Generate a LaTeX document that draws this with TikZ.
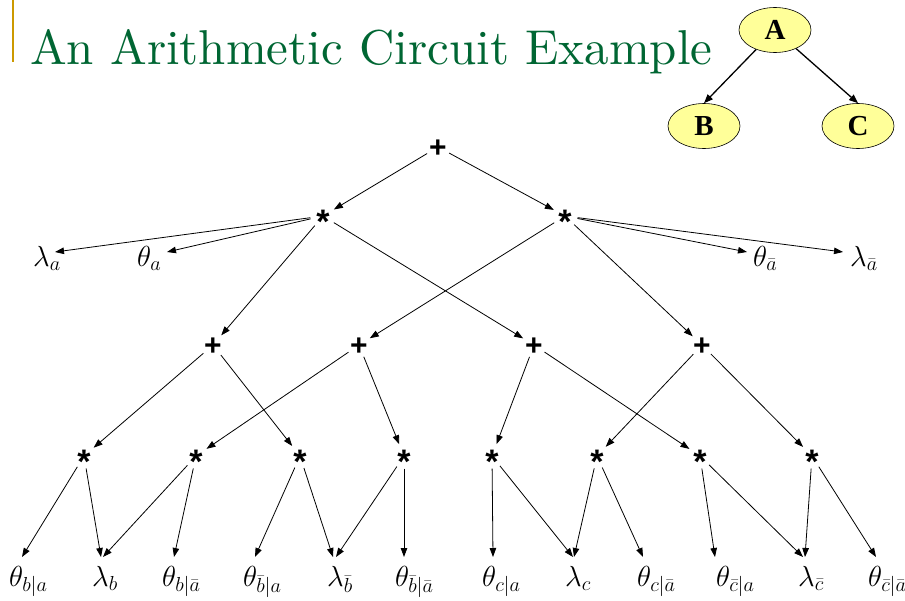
\documentclass[tikz,border=0pt]{standalone}
\usepackage{fix-cm}
\usepackage{fontspec}
\setsansfont{Liberation Sans}
\newfontfamily\abcfont{Liberation Serif}
\usetikzlibrary{arrows.meta,shapes.geometric,calc}
\definecolor{titlegreen}{RGB}{0,102,51}
\definecolor{goldbar}{RGB}{204,153,0}
\definecolor{nodeyellow}{RGB}{255,255,153}
\newcommand{\opstar}{\smash{\raisebox{-0.57em}{\fontsize{34}{34}\selectfont *}}}
\newcommand{\opplus}{\smash{\raisebox{-0.35em}{+}}}
\begin{document}
\begin{tikzpicture}[x=1pt,y=-1pt,
  op/.style={circle,inner sep=0pt,minimum size=25pt,font=\sffamily\bfseries\fontsize{30}{30}\selectfont},
  leaf/.style={inner sep=0pt,anchor=base west,font=\fontsize{29}{30}\selectfont},
  arr/.style={-{Triangle[length=9pt,width=6.5pt]},line width=0.8pt},
  bn/.style={ellipse,draw=black,line width=0.6pt,fill=nodeyellow,inner sep=0pt,minimum width=72pt,minimum height=45pt,font=\abcfont\bfseries\fontsize{29}{29}\selectfont},
  barr/.style={-{Triangle[length=9pt,width=7pt]},line width=1.3pt}
]
\useasboundingbox (0,0) rectangle (905,600);
% title
\fill[goldbar] (12,0) rectangle (14,62);
\node[anchor=base west,inner sep=0pt,text=titlegreen] (title) at (30,64)
  {\resizebox{682pt}{!}{\rmfamily An Arithmetic Circuit Example}};
% network A B C
\node[bn] (A) at (775,30) {A};
\node[bn] (B) at (704,126) {B};
\node[bn] (C) at (858,126) {C};
\draw[barr] (A) -- (B.north);
\draw[barr] (A) -- (C.north);
% operators
\node[op] (root) at (438,147) {\opplus};
\node[op] (s1) at (323,216) {\opstar};
\node[op] (s2) at (565,216) {\opstar};
\node[op] (p1) at (213,345) {\opplus};
\node[op] (p2) at (359,345) {\opplus};
\node[op] (p3) at (534,345) {\opplus};
\node[op] (p4) at (702,345) {\opplus};
\node[op] (m1) at (84,456) {\opstar};
\node[op] (m2) at (196,456) {\opstar};
\node[op] (m3) at (300,456) {\opstar};
\node[op] (m4) at (404,456) {\opstar};
\node[op] (m5) at (492,456) {\opstar};
\node[op] (m6) at (597,456) {\opstar};
\node[op] (m7) at (700,456) {\opstar};
\node[op] (m8) at (812,456) {\opstar};
% top leaves
\node[leaf] (la) at (33,266) {$\lambda_a$};
\node[leaf] (ta) at (137,266) {$\theta_a$};
\node[leaf] (tna) at (753,266) {$\theta_{\bar a}$};
\node[leaf] (lna) at (850,266) {$\lambda_{\bar a}$};
% bottom leaves
\node[leaf] (tba) at (9,586) {$\theta_{b|a}$};
\node[leaf] (lb) at (92,586) {$\lambda_b$};
\node[leaf] (tbna) at (162,586) {$\theta_{b|\bar a}$};
\node[leaf] (tnba) at (243,586) {$\theta_{\bar b|a}$};
\node[leaf] (lnb) at (327,586) {$\lambda_{\bar b}$};
\node[leaf] (tnbna) at (395,586) {$\theta_{\bar b|\bar a}$};
\node[leaf] (tca) at (482,586) {$\theta_{c|a}$};
\node[leaf] (lc) at (565,586) {$\lambda_c$};
\node[leaf] (tcna) at (637,586) {$\theta_{c|\bar a}$};
\node[leaf] (tnca) at (716,586) {$\theta_{\bar c|a}$};
\node[leaf] (lnc) at (798,586) {$\lambda_{\bar c}$};
\node[leaf] (tncna) at (868,586) {$\theta_{\bar c|\bar a}$};
% edges
\draw[arr] (root) -- (s1);
\draw[arr] (root) -- (s2);
\draw[arr] (s1) -- ($(la.base west)+(22,-14)$);
\draw[arr] (s1) -- ($(ta.base west)+(30,-14)$);
\draw[arr] (s2) -- ($(tna.base west)+(-6,-14)$);
\draw[arr] (s2) -- ($(lna.base west)+(-7,-14)$);
\draw[arr] (s1) -- (p1);
\draw[arr] (s1) -- (p3);
\draw[arr] (s2) -- (p2);
\draw[arr] (s2) -- (p4);
\draw[arr] (p1) -- (m1);
\draw[arr] (p1) -- (m3);
\draw[arr] (p2) -- (m2);
\draw[arr] (p2) -- (m4);
\draw[arr] (p3) -- (m5);
\draw[arr] (p3) -- (m7);
\draw[arr] (p4) -- (m6);
\draw[arr] (p4) -- (m8);
\draw[arr] (m1) -- ($(tba.base west)+(13,-29)$);
\draw[arr] (m1) -- ($(lb.base west)+(9,-29)$);
\draw[arr] (m2) -- ($(lb.base west)+(11,-29)$);
\draw[arr] (m2) -- ($(tbna.base west)+(12,-29)$);
\draw[arr] (m3) -- ($(tnba.base west)+(12,-29)$);
\draw[arr] (m3) -- ($(lnb.base west)+(6,-29)$);
\draw[arr] (m4) -- ($(lnb.base west)+(9,-29)$);
\draw[arr] (m4) -- ($(tnbna.base west)+(9,-29)$);
\draw[arr] (m5) -- ($(tca.base west)+(11,-29)$);
\draw[arr] (m5) -- ($(lc.base west)+(8,-29)$);
\draw[arr] (m6) -- ($(lc.base west)+(9,-29)$);
\draw[arr] (m6) -- ($(tcna.base west)+(6,-29)$);
\draw[arr] (m7) -- ($(tnca.base west)+(-1,-29)$);
\draw[arr] (m7) -- ($(lnc.base west)+(5,-29)$);
\draw[arr] (m8) -- ($(lnc.base west)+(7,-29)$);
\draw[arr] (m8) -- ($(tncna.base west)+(8,-29)$);
\end{tikzpicture}
\end{document}
